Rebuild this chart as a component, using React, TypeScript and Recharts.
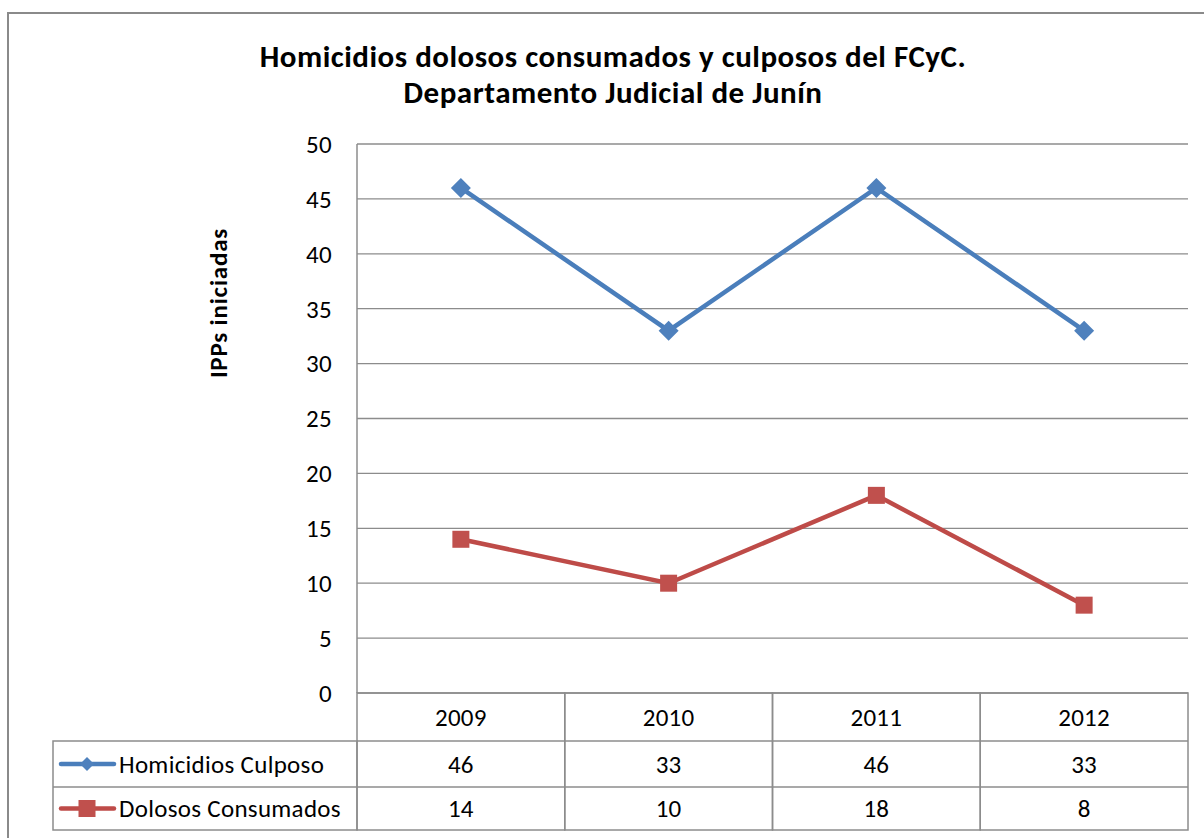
import React from 'react';
import { LineChart, Line, XAxis, YAxis, CartesianGrid } from 'recharts';

const years = ['2009', '2010', '2011', '2012'];
const culposos = [46, 33, 46, 33];
const dolosos = [14, 10, 18, 8];
const yTicks = [0, 5, 10, 15, 20, 25, 30, 35, 40, 45, 50];
const seriesNames = ['Homicidios Culposo', 'Dolosos Consumados'];
const titleLines = ['Homicidios dolosos consumados y culposos del FCyC.', 'Departamento Judicial de Junín'];
const yLabel = 'IPPs iniciadas';

const data = years.map((y, i) => ({ year: y, culposos: culposos[i], dolosos: dolosos[i] }));

const W = 1204;
const H = 838;
const PLOT_LEFT = 357;
const PLOT_RIGHT = 1188;
const PLOT_TOP = 144;
const PLOT_BOTTOM = 693;
const YAXIS_W = 60;
const BAND = (PLOT_RIGHT - PLOT_LEFT) / years.length;
const ROWS = [48, 46, 43];
const LEGEND_LEFT = 53;
const FONT = 'Carlito, Calibri, Lato, sans-serif';
const FS = 25;
const LS = 0.3;
const BLUE = '#4F81BD';
const RED = '#C0504D';
const BLUE_LINE = '#4A7EBB';
const RED_LINE = '#BE4B48';
const GRID = '#8c8c8c';

const Diamond = ({ cx, cy, s, fill }: any) => (
  <path d={`M${cx},${cy - s} L${cx + s},${cy} L${cx},${cy + s} L${cx - s},${cy} Z`} fill={fill} />
);
const Square = ({ cx, cy, s, fill }: any) => (
  <rect x={cx - s} y={cy - s} width={2 * s} height={2 * s} fill={fill} />
);

const DiamondDot = (props: any) => {
  const { cx, cy, index } = props;
  if (cx == null || cy == null) return null;
  return <Diamond key={`d${index}`} cx={cx} cy={cy} s={10} fill={BLUE} />;
};
const SquareDot = (props: any) => {
  const { cx, cy, index } = props;
  if (cx == null || cy == null) return null;
  return <Square key={`s${index}`} cx={cx} cy={cy} s={8.5} fill={RED} />;
};

const TableTick = (props: any) => {
  const { x, y, payload, index } = props;
  const left = x - BAND / 2;
  const r0 = y;
  const r1 = r0 + ROWS[0];
  const r2 = r1 + ROWS[1];
  const r3 = r2 + ROWS[2];
  const txt = { fontFamily: FONT, fontSize: FS, letterSpacing: LS, fill: '#000', dominantBaseline: 'central' as any };
  return (
    <g>
      <rect x={left} y={r0} width={BAND} height={r3 - r0} fill="none" stroke={GRID} strokeWidth={1.5} />
      <line x1={left} x2={left + BAND} y1={r1} y2={r1} stroke={GRID} strokeWidth={1.5} />
      <line x1={left} x2={left + BAND} y1={r2} y2={r2} stroke={GRID} strokeWidth={1.5} />
      <text x={x} y={(r0 + r1) / 2} textAnchor="middle" {...txt}>{payload.value}</text>
      <text x={x} y={(r1 + r2) / 2} textAnchor="middle" {...txt}>{culposos[index]}</text>
      <text x={x} y={(r2 + r3) / 2} textAnchor="middle" {...txt}>{dolosos[index]}</text>
      {index === 0 && (
        <g>
          <rect x={LEGEND_LEFT} y={r1} width={left - LEGEND_LEFT} height={r3 - r1} fill="none" stroke={GRID} strokeWidth={1.5} />
          <line x1={LEGEND_LEFT} x2={left} y1={r2} y2={r2} stroke={GRID} strokeWidth={1.5} />
          <line x1={61} x2={114} y1={(r1 + r2) / 2} y2={(r1 + r2) / 2} stroke={BLUE_LINE} strokeWidth={4.5} strokeLinecap="round" />
          <Diamond cx={87} cy={(r1 + r2) / 2} s={7} fill={BLUE} />
          <line x1={61} x2={114} y1={(r2 + r3) / 2} y2={(r2 + r3) / 2} stroke={RED_LINE} strokeWidth={4.5} strokeLinecap="round" />
          <Square cx={87} cy={(r2 + r3) / 2} s={8.5} fill={RED} />
          <text x={119} y={(r1 + r2) / 2} textAnchor="start" {...txt}>{seriesNames[0]}</text>
          <text x={119} y={(r2 + r3) / 2} textAnchor="start" {...txt}>{seriesNames[1]}</text>
        </g>
      )}
    </g>
  );
};

export default function App() {
  return (
    <div style={{ position: 'absolute', left: 0, top: 0, width: W, height: H, overflow: 'hidden', background: '#fff' }}>
      <div style={{ position: 'absolute', left: 7, top: 12, width: 1400, height: 1200, borderLeft: '2px solid #8a8a8a', borderTop: '2px solid #8a8a8a' }} />
      <div style={{ position: 'absolute', left: 0, top: 0 }}>
        <LineChart
          width={W}
          height={H}
          data={data}
          margin={{ top: PLOT_TOP, right: W - PLOT_RIGHT, bottom: 0, left: PLOT_LEFT - YAXIS_W }}
        >
          <CartesianGrid vertical={false} stroke={GRID} strokeWidth={1.3} />
          <XAxis
            dataKey="year"
            axisLine={false}
            tickLine={false}
            tickSize={0}
            tickMargin={0}
            height={H - PLOT_BOTTOM}
            padding={{ left: BAND / 2, right: BAND / 2 }}
            tick={<TableTick />}
            interval={0}
          />
          <YAxis
            width={YAXIS_W}
            domain={[0, 50]}
            ticks={yTicks}
            interval={0}
            axisLine={{ stroke: GRID, strokeWidth: 1.5 }}
            tickLine={false}
            tickSize={0}
            tickMargin={25}
            tick={{ fontFamily: FONT, fontSize: FS, letterSpacing: LS, fill: '#000' }}
          />
          <Line
            dataKey="culposos"
            stroke={BLUE_LINE}
            strokeWidth={4.5}
            dot={<DiamondDot />}
            activeDot={false}
            isAnimationActive={false}
          />
          <Line
            dataKey="dolosos"
            stroke={RED_LINE}
            strokeWidth={4.5}
            dot={<SquareDot />}
            activeDot={false}
            isAnimationActive={false}
          />
        </LineChart>
      </div>
      <div style={{ position: 'absolute', left: 0, width: 1226, top: 38, textAlign: 'center', fontFamily: FONT, fontWeight: 'bold', fontSize: 31, letterSpacing: 0.5, lineHeight: '36px', color: '#000' }}>
        <div>{titleLines[0]}</div>
        <div>{titleLines[1]}</div>
      </div>
      <div style={{ position: 'absolute', left: 219, top: 303, width: 0, height: 0 }}>
        <div style={{ position: 'absolute', left: -100, top: -15, width: 200, height: 30, lineHeight: '30px', textAlign: 'center', transform: 'rotate(-90deg)', fontFamily: FONT, fontWeight: 'bold', fontSize: 25, letterSpacing: 0.8, color: '#000' }}>
          {yLabel}
        </div>
      </div>
    </div>
  );
}
